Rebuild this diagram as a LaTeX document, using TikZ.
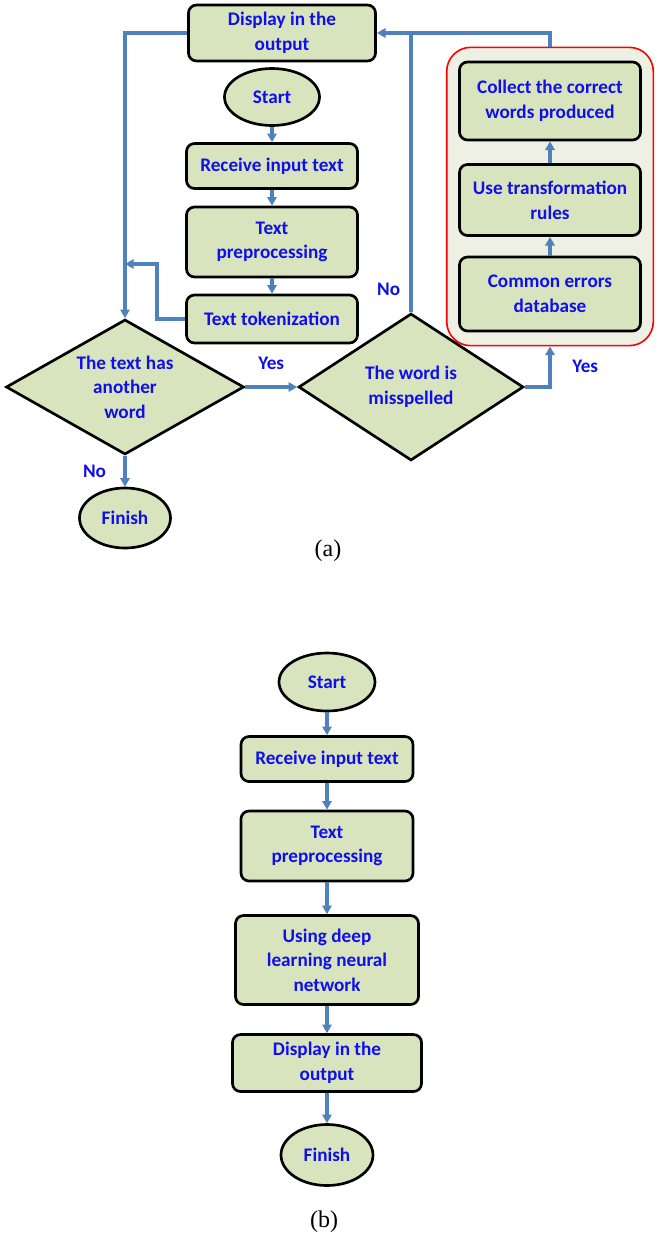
\documentclass[tikz,border=0pt]{standalone}
\usepackage{fontspec}
\setmainfont{Carlito}
\newfontfamily\captionfont{Liberation Serif}
\usetikzlibrary{shapes.geometric}
\usetikzlibrary{fit}
\usetikzlibrary{arrows.meta}
\pgfdeclarelayer{background}
\pgfsetlayers{background,main}
\definecolor{fuellung}{HTML}{D7E4BD}
\definecolor{schrift}{RGB}{15,15,235}
\definecolor{pfeilfarbe}{HTML}{4F81BD}
\definecolor{rahmen}{HTML}{EEF0E4}

\begin{document}
\begin{tikzpicture} [ x=0.75pt, y=-0.75pt
								, font=\bfseries\fontsize{14.4}{18.5}\selectfont
								, schritt/.style={rectangle, rounded corners=6pt, minimum width=128.25pt, inner sep=2pt, align=center, line width=2pt, draw, fill=fuellung, text=schrift}
								, grenze/.style={ellipse, inner sep=1pt, line width=2pt, draw, fill=fuellung, text=schrift}
								, frage/.style={diamond, inner sep=1pt, align=center, line width=2pt, draw, fill=fuellung, text=schrift}
								, pfeil/.style ={draw, pfeilfarbe, line width=2.5pt, arrows={-Triangle[length=6.5pt,width=7pt]}}
								, linie/.style ={draw, pfeilfarbe, line width=2.5pt}
								, antwort/.style={inner sep=0pt, text=schrift}
								, unterschrift/.style={font=\captionfont\fontsize{18}{20}\selectfont}
								]
	\useasboundingbox (0,0) rectangle (661,1239);

	% (a)
	\node (Anzeige) 			[schritt, minimum width=140.25pt, minimum height=42pt] at (282,33) {Display in the\\output};
	\node (Start) 			[grenze, minimum width=71.25pt, minimum height=42.75pt] at (272,97) {Start};
	\node (Eingabe) 			[schritt, minimum height=33.75pt, below of = Start, node distance =51.75pt] {Receive input text};
	\node (Vorverarbeitung) 	[schritt, minimum height=52.5pt, below of = Eingabe, node distance =57pt] {Text\\preprocessing};
	\node (Tokenisierung) 	[schritt, minimum height=36pt, below of = Vorverarbeitung, node distance =57.75pt] {Text tokenization};
	\node (Weiteres) 			[frage, aspect=1.76, minimum width=178.5pt, minimum height=101.25pt] at (125,387) {The text has\\another\\word};
	\node (Falsch) 			[frage, aspect=1.53, minimum width=168.75pt, minimum height=110.25pt, right of = Weiteres, node distance =214.5pt] {The word is\\misspelled};
	\node (Ende) 				[grenze, minimum width=68.25pt, minimum height=45pt, below of = Weiteres, node distance =98.25pt] {Finish};
	\node (Fehler) 			[schritt, minimum width=135.75pt, minimum height=55.5pt] at (550,294) {Common errors\\database};
	\node (Regeln) 			[schritt, minimum width=135.75pt, minimum height=53.25pt, above of = Fehler, node distance =70.5pt] {Use transformation\\rules};
	\node (Sammeln) 			[schritt, minimum width=135.75pt, minimum height=58.5pt, above of = Regeln, node distance =74.25pt] {Collect the correct\\words produced};

	\begin{pgfonlayer}{background}
		\node (Korrektur) [draw=red, line width=1.2pt, rounded corners=18pt, fill=rahmen, inner xsep=8.6pt, inner ysep=10pt, fit=(Sammeln) (Fehler)] {};
	\end{pgfonlayer}

	\coordinate (Knick) at (157,264);
	\node (NeinOben) [antwort, anchor=south east, xshift=-8pt, yshift=12.5pt] at (Falsch.north) {No};

	\draw [pfeil] (Start) -- (Eingabe);
	\draw [pfeil] (Eingabe) -- (Vorverarbeitung);
	\draw [pfeil] (Vorverarbeitung) -- (Tokenisierung);
	\draw [pfeil] (Anzeige.west) -| (Weiteres.north);
	\draw [pfeil] (Tokenisierung.west) -| (Knick) -- (Weiteres.north |- Knick);
	\draw [pfeil] (Weiteres.east) -- node[antwort, above=12pt] {Yes} (Falsch.west);
	\draw [pfeil] (Weiteres.south) -- node[antwort, left=13pt] {No} (Ende.north);
	\draw [pfeil] (Falsch.north) |- (Anzeige.east);
	\draw [linie] (Korrektur.north) |- (Falsch.north |- Anzeige.east);
	\draw [pfeil] (Falsch.east) -| node[antwort, pos=0.75, right=15.5pt] {Yes} (Korrektur.south);
	\draw [pfeil] (Fehler) -- (Regeln);
	\draw [pfeil] (Regeln) -- (Sammeln);

	\node (TeilA) [unterschrift] at (328,551) {(a)};

	% (b)
	\node (StartB) 			[grenze, minimum width=72pt, minimum height=43.5pt] at (327,682) {Start};
	\node (EingabeB) 			[schritt, minimum width=129pt, minimum height=33.75pt, below of = StartB, node distance =57.75pt] {Receive input text};
	\node (VorverarbeitungB) 	[schritt, minimum width=129pt, minimum height=52.5pt, below of = EingabeB, node distance =65.25pt] {Text\\preprocessing};
	\node (Netz) 				[schritt, minimum width=137.25pt, minimum height=66.75pt, below of = VorverarbeitungB, node distance =85.5pt] {Using deep\\learning neural\\network};
	\node (AnzeigeB) 			[schritt, minimum width=141.75pt, minimum height=42.75pt, below of = Netz, node distance =77.25pt] {Display in the\\output};
	\node (EndeB) 			[grenze, minimum width=69pt, minimum height=45.75pt, below of = AnzeigeB, node distance =69pt] {Finish};

	\draw [pfeil] (StartB) -- (EingabeB);
	\draw [pfeil] (EingabeB) -- (VorverarbeitungB);
	\draw [pfeil] (VorverarbeitungB) -- (Netz);
	\draw [pfeil] (Netz) -- (AnzeigeB);
	\draw [pfeil] (AnzeigeB) -- (EndeB);

	\node (TeilB) [unterschrift] at (324,1222) {(b)};

\end{tikzpicture}
\end{document}
